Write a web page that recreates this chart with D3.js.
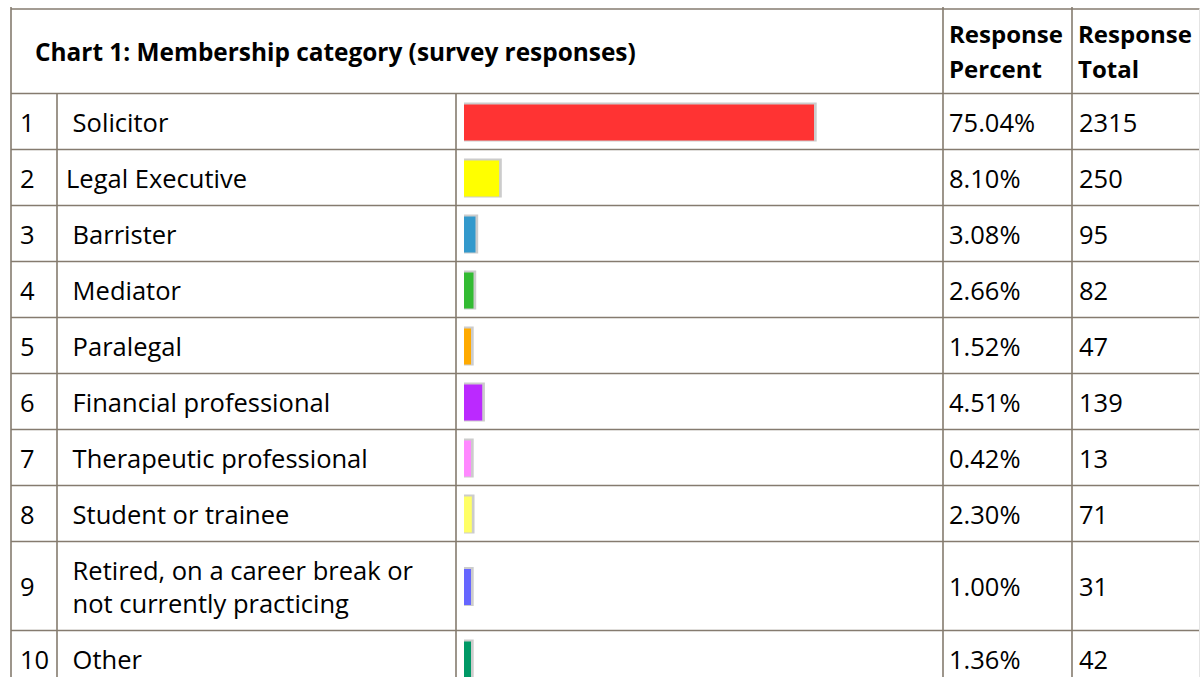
<!DOCTYPE html>
<html>
<head>
<meta charset="utf-8">
<script src="https://cdn.jsdelivr.net/npm/d3@7"></script>
<style>
  html, body { margin: 0; padding: 0; background: #ffffff; }
  svg { display: block; }
  text { font-family: "Open Sans", Lato, sans-serif; fill: #000; white-space: pre; }
</style>
</head>
<body>
<script>
// Survey results: membership category
const title = "Chart 1: Membership category (survey responses)";
const headerPercent = ["Response", "Percent"];
const headerTotal = ["Response", "Total"];
const categories = [
  [" Solicitor"],
  ["Legal Executive"],
  [" Barrister"],
  [" Mediator"],
  [" Paralegal"],
  [" Financial professional"],
  [" Therapeutic professional"],
  [" Student or trainee"],
  [" Retired, on a career break or", " not currently practicing"],
  [" Other"]
];
const percents = [75.04, 8.10, 3.08, 2.66, 1.52, 4.51, 0.42, 2.30, 1.00, 1.36];
const totals = [2315, 250, 95, 82, 47, 139, 13, 71, 31, 42];
const barColors = ["#ff3333", "#ffff00", "#3399cc", "#33bb33", "#ffaa00",
                   "#bb29ff", "#ff88ff", "#ffff66", "#6666ff", "#009966"];

const W = 1200, H = 677;
const bodySize = 25.5, titleSize = 24.4, headSize = 24;
const lineStep = 33;
const borderColor = "#857b6f";

// column edges
const colX = { left: 11, num: 57, label: 456, pct: 943, tot: 1072, right: 1199.5 };
const tableTop = 9, headerBottom = 93.5;

// row layout: each row grows with its number of text lines
const rows = [];
let y0 = headerBottom;
categories.forEach((lines, i) => {
  const h = 23 + lineStep * lines.length;
  rows.push({ i, lines, top: y0, h, pct: percents[i], total: totals[i], color: barColors[i] });
  y0 += h;
});

const svg = d3.select("body").append("svg").attr("width", W).attr("height", H);
svg.append("rect").attr("width", W).attr("height", H).attr("fill", "#fff");

// bar length scale (bars are inset 3px, with a 7px minimum)
const x = d3.scaleLinear().domain([0, d3.max(percents)]).range([0, 353]);
const barH = 36;
const barX = 464;

const bars = svg.append("g");
const rowG = bars.selectAll("g").data(rows).join("g");
rowG.append("rect")
  .attr("x", barX)
  .attr("y", d => d.top + (d.h - barH) / 2 - 1)
  .attr("width", d => Math.max(7, x(d.pct) - 3) + 2.7)
  .attr("height", barH + 3)
  .attr("fill", "#cccccc");
rowG.append("rect")
  .attr("x", barX)
  .attr("y", d => d.top + (d.h - barH) / 2 + 1)
  .attr("width", d => Math.max(7, x(d.pct) - 3))
  .attr("height", barH)
  .attr("fill", d => d.color);

// text
const txt = svg.append("g").attr("font-size", bodySize);
const baseY = d => d.top + d.h / 2 + 10;

txt.selectAll("text.num").data(rows).join("text")
  .attr("class", "num")
  .attr("x", 20).attr("y", baseY)
  .text(d => d.i + 1);

txt.selectAll("text.lab").data(rows).join("text")
  .attr("class", "lab")
  .attr("x", 66)
  .attr("y", d => baseY(d) - (d.lines.length - 1) * lineStep / 2)
  .selectAll("tspan").data(d => d.lines).join("tspan")
  .attr("x", 66)
  .attr("dy", (d, j) => j === 0 ? 0 : lineStep)
  .text(d => d);

txt.selectAll("text.pct").data(rows).join("text")
  .attr("class", "pct")
  .attr("x", 949).attr("y", baseY)
  .text(d => d3.format(".2f")(d.pct) + "%");

txt.selectAll("text.tot").data(rows).join("text")
  .attr("class", "tot")
  .attr("x", 1079).attr("y", baseY)
  .text(d => d.total);

// header
txt.append("text").attr("x", 35).attr("y", 61)
  .attr("font-weight", "bold").attr("font-size", titleSize).text(title);
headerPercent.forEach((t, j) => {
  txt.append("text").attr("x", 949).attr("y", 43 + j * 35)
    .attr("font-weight", "bold").attr("font-size", headSize).text(t);
});
headerTotal.forEach((t, j) => {
  txt.append("text").attr("x", 1078).attr("y", 43 + j * 35)
    .attr("font-weight", "bold").attr("font-size", headSize).text(t);
});

// grid lines
const grid = svg.append("g").attr("stroke", borderColor).attr("stroke-width", 1.6).attr("fill", "none");
const hLines = [tableTop, headerBottom].concat(rows.slice(1).map(r => r.top));
grid.selectAll("line.h").data(hLines).join("line")
  .attr("x1", colX.left).attr("x2", colX.right)
  .attr("y1", d => d).attr("y2", d => d);
grid.selectAll("line.vfull").data([colX.left, colX.pct, colX.tot]).join("line")
  .attr("x1", d => d).attr("x2", d => d).attr("y1", tableTop - 2).attr("y2", H);
grid.selectAll("line.vbody").data([colX.num, colX.label]).join("line")
  .attr("x1", d => d).attr("x2", d => d).attr("y1", headerBottom).attr("y2", H);
svg.append("line")
  .attr("x1", colX.right).attr("x2", colX.right).attr("y1", tableTop).attr("y2", H)
  .attr("stroke", "#e4e4e4").attr("stroke-width", 1);
</script>
</body>
</html>
